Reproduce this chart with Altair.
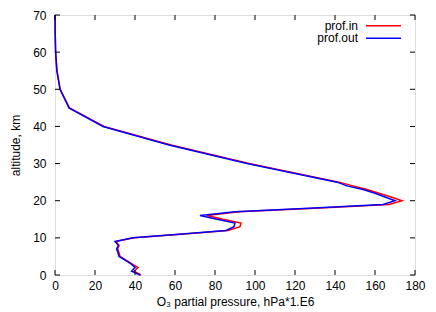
import altair as alt
import pandas as pd

# ---- data ----
altitude = [0, 1, 2, 3, 4, 5, 6, 7, 8, 9, 10, 11, 12, 13, 14, 15, 16, 17, 18, 19,
            20, 21, 22, 23, 24, 25, 30, 35, 40, 45, 50, 55, 60, 65, 70]
prof_in = [43, 39.5, 41.5, 38.5, 35.5, 32.5, 32, 31.3, 32, 30.5, 39.5, 63, 86.5, 92.5, 93,
           84, 76, 92, 130, 167, 173.5, 168, 162, 156, 149, 142, 97, 58, 24.5, 7.2, 2.6,
           1, 0.3, 0.1, 0]
prof_out = [42.5, 38.3, 40, 38, 35, 32, 31.5, 30.8, 31.7, 30, 39, 62, 85.5, 89.5, 90,
            81, 72.5, 90, 127, 164, 170, 165, 160, 154, 146, 141, 96, 57, 24, 7, 2.5,
            0.9, 0.3, 0.1, 0]
series = ["prof.in", "prof.out"]
colors = ["#ff0000", "#0000ff"]
x_ticks = [0, 20, 40, 60, 80, 100, 120, 140, 160, 180]
y_ticks = [0, 10, 20, 30, 40, 50, 60, 70]

W, H = 360, 260
FONT = "Liberation Sans"

rows = []
for a, v in zip(altitude, prof_in):
    rows.append({"alt": a, "val": v, "series": series[0]})
for a, v in zip(altitude, prof_out):
    rows.append({"alt": a, "val": v, "series": series[1]})
df = pd.DataFrame(rows)

xscale = alt.Scale(domain=[0, 180], nice=False, zero=False)
yscale = alt.Scale(domain=[0, 70], nice=False, zero=False)
xaxis = alt.Axis(values=x_ticks, title="O\u2083 partial pressure, hPa*1.E6",
                 grid=False, ticks=False, domain=False, labelPadding=5,
                 titlePadding=5, labelFlush=False, titleFontWeight="normal",
                 labelFont=FONT, titleFont=FONT, labelFontSize=12, titleFontSize=12,
                 labelColor="black", titleColor="black")
yaxis = alt.Axis(values=y_ticks, title="altitude, km", grid=False,
                 ticks=False, domain=False, labelPadding=9, titlePadding=10,
                 labelFlush=False, titleFontWeight="normal",
                 labelFont=FONT, titleFont=FONT, labelFontSize=12, titleFontSize=12,
                 labelColor="black", titleColor="black")

lines = alt.Chart(df).mark_line(strokeWidth=1.5).encode(
    x=alt.X("val:Q", scale=xscale, axis=xaxis),
    y=alt.Y("alt:Q", scale=yscale, axis=yaxis),
    color=alt.Color("series:N", scale=alt.Scale(domain=series, range=colors), legend=None),
    order="alt:Q",
)

xt_df = pd.DataFrame({"val": x_ticks})
yt_df = pd.DataFrame({"alt": y_ticks})
xb = alt.Chart(xt_df).mark_rule(color="black", strokeWidth=1).encode(
    x=alt.X("val:Q", scale=xscale, axis=xaxis), y=alt.value(H), y2=alt.value(H - 5))
xtop = alt.Chart(xt_df).mark_rule(color="black", strokeWidth=1).encode(
    x=alt.X("val:Q", scale=xscale, axis=xaxis), y=alt.value(0), y2=alt.value(5))
yl = alt.Chart(yt_df).mark_rule(color="black", strokeWidth=1).encode(
    y=alt.Y("alt:Q", scale=yscale, axis=yaxis), x=alt.value(0), x2=alt.value(5))
yr = alt.Chart(yt_df).mark_rule(color="black", strokeWidth=1).encode(
    y=alt.Y("alt:Q", scale=yscale, axis=yaxis), x=alt.value(W - 5), x2=alt.value(W))

legend_layers = []
for i, (name, col) in enumerate(zip(series, colors)):
    ly = 10.7 + 12.6 * i
    ldf = pd.DataFrame({"label": [name]})
    legend_layers.append(
        alt.Chart(ldf).mark_text(align="right", baseline="middle", font=FONT,
                                 fontSize=12, color="black").encode(
            text="label:N", x=alt.value(303), y=alt.value(ly)))
    legend_layers.append(
        alt.Chart(ldf).mark_rule(color=col, strokeWidth=1.5).encode(
            x=alt.value(311), x2=alt.value(346), y=alt.value(ly)))

chart = alt.layer(lines, xb, xtop, yl, yr, *legend_layers).properties(
    width=W, height=H,
    autosize=alt.AutoSizeParams(type="none"),
    padding={"left": 47, "top": 7, "right": 13, "bottom": 37},
).configure_view(stroke="black", strokeWidth=1).configure(background="white")

chart.save("out.html", embed_options={"renderer": "svg", "actions": False})
